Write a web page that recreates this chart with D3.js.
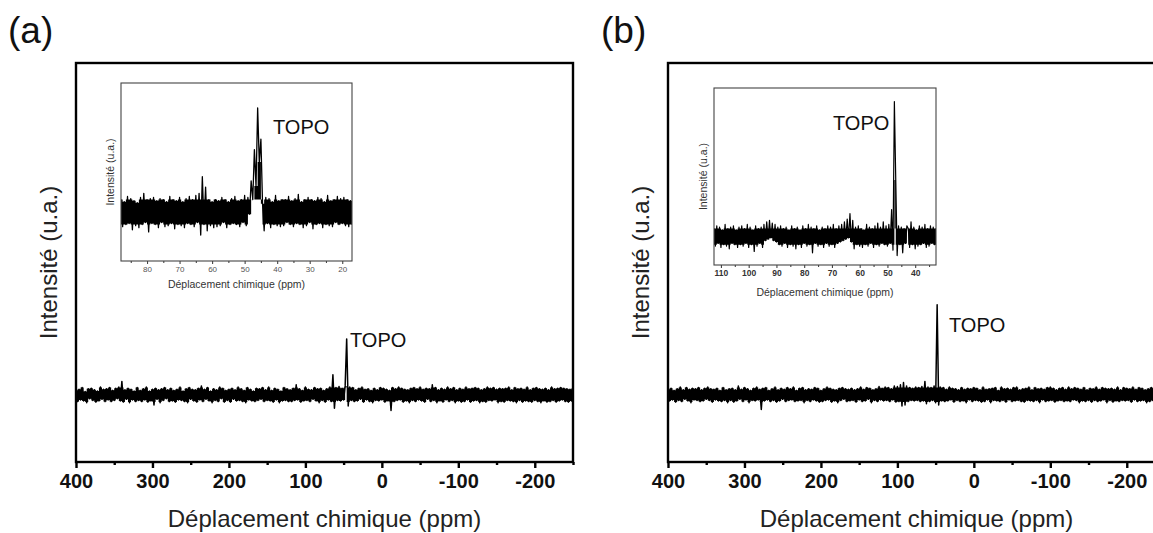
<!DOCTYPE html>
<html><head><meta charset="utf-8">
<script src="https://cdn.jsdelivr.net/npm/d3@7"></script>
<style>body{margin:0;background:#fff;} text{font-family:"Liberation Sans",Arial,sans-serif;}</style>
</head><body>
<script>
// ---------- DATA ----------
// main spectra: uniform grid from 400 ppm downwards, step 2 ppm (intensity, a.u.)
const mainStart = 400, mainStep = 2;
const mainTicks = [400, 300, 200, 100, 0, -100, -200];
const mainMinorTicks = [350, 250, 150, 50, -50, -150, -250];
const spectrumA = [
 8,-12,10,-9,13,-11,6,-14,11,-7,12,-10,9,-13,7,-11,14,-8,10,-12,
 11,-9,13,-12,8,-10,12,-7,14,-11,24,-13,9,-8,12,-14,10,-9,7,-12,
 13,-10,8,-12,11,-9,14,-13,7,-11,10,-18,12,-8,9,-14,11,-10,13,-7,
 9,-12,12,-11,8,-13,10,-9,14,-10,7,-12,11,-14,13,-8,10,-11,9,-13,
 12,-9,16,-12,10,-8,13,-11,7,-14,11,-10,9,-12,14,-7,12,-13,8,-10,
 10,-13,12,-8,9,-11,14,-10,11,-12,8,-14,13,-9,10,-11,7,-12,12,-10,
 11,-8,13,-12,9,-10,14,-11,8,-13,12,-9,10,-14,7,-11,13,-10,11,-12,
 9,-12,12,-10,18,-9,11,-13,8,-11,14,-10,10,-12,9,-8,13,-11,11,-14,
 12,-10,8,-13,11,-9,14,-12,36,-24,13,-10,15,-11,12,-9,16,100,-20,14,
 -10,13,-12,9,-11,12,-8,14,-13,10,-9,11,-12,8,-14,12,-10,9,-11,13,
 -9,12,-13,10,-11,8,-28,13,-12,11,-10,14,-9,12,-13,10,-11,9,-14,12,
 -10,13,-12,11,-9,14,-11,10,-13,12,-8,11,-12,18,-10,13,-14,9,-11,12,
 -13,10,-9,14,-12,11,-10,13,-14,9,-11,12,-13,10,-12,14,-9,11,-13,12,
 -11,13,-10,12,-14,9,-12,11,-13,14,-10,12,-11,13,-9,10,-14,12,-12,11,
 -13,12,-10,14,-11,9,-12,13,-14,11,-10,12,-13,10,-11,14,-12,9,-13,12,
 -10,13,-12,11,-14,10,-11,12,-13,9,-12,14,-10,11,-13,12,-11,13,-9,12,
 -12,11,-13,10,-11,12
];
const spectrumB = [
 10,-11,12,-9,8,-13,11,-10,14,-12,9,-8,13,-11,10,-14,12,-9,11,-10,
 13,-12,9,-11,12,-8,14,-10,11,-13,10,-9,12,-11,8,-12,13,-10,9,-14,
 11,-10,12,-13,9,-11,16,-8,10,-12,13,-9,11,-14,8,-10,12,-11,14,-9,
 10,-26,12,-11,13,-9,8,-12,11,-10,14,-13,9,-11,12,-8,10,-12,13,-10,
 11,-9,14,-12,8,-11,12,-10,13,-14,9,-10,11,-12,10,-9,13,-11,12,-13,
 8,-12,11,-10,14,-9,12,-13,10,-11,9,-14,12,-10,13,-8,11,-12,10,-11,
 12,-10,9,-13,11,-9,14,-12,10,-11,13,-8,12,-14,9,-10,11,-12,15,-9,
 12,-11,14,-10,13,-12,11,-9,16,-13,15,-12,18,-20,22,-18,16,-12,13,-10,
 12,-11,14,-10,13,-12,15,-11,24,-16,14,-12,13,-10,16,-14,161,-18,14,-11,
 13,-12,10,-11,14,-9,12,-13,11,-10,9,-12,13,-11,10,-14,12,-9,11,-12,
 13,-10,12,-11,9,-13,14,-12,10,-9,11,-14,12,-10,13,-11,8,-12,14,-10,
 11,-13,12,-9,10,-12,13,-11,14,-10,9,-12,11,-13,12,-10,14,-11,9,-12,
 13,-10,11,-14,12,-9,10,-12,13,-11,14,-10,12,-13,9,-11,12,-10,13,-12,
 10,-11,14,-12,11,-9,13,-10,12,-14,10,-11,13,-12,9,-10,12,-13,11,-10,
 14,-12,10,-11,13,-9,12,-14,11,-10,12,-13,10,-11,14,-12,9,-10,13,-11,
 12,-10,11,-13,14,-9,10,-12,13,-11,12,-10,9,-14,11,-12,13,-10,12,-11,
 10,-13,12,-11,14,-10
];
// insets: uniform grid, step 0.5 ppm
const insetStep = 0.5;
const insetAStart = 88;
const insetATicks = [80, 70, 60, 50, 40, 30, 20];
const insetAMinor = [85, 75, 65, 55, 45, 35, 25];
const insetA = [
 12,-14,10,-12,15,-11,13,-17,11,-13,9,-15,14,-12,18,-10,12,-19,13,-11,
 14,-12,11,-15,13,-10,12,-14,10,-13,15,-11,12,-16,11,-12,14,-13,10,-15,
 13,-11,15,-12,12,-14,16,-10,18,-22,34,-12,24,-18,12,-13,10,-15,12,-14,
 11,-13,14,-10,12,-15,10,-12,13,-11,15,-12,11,-14,12,-10,16,-13,14,-2,
 30,12,60,25,100,48,70,8,-18,14,-11,13,-15,10,-12,16,-13,11,-14,12,
 -13,12,-10,15,-12,11,-14,13,-11,17,-12,10,-15,12,-13,14,-10,12,-16,11,
 -12,14,-11,13,-15,10,-12,16,-13,11,-14,12,-10,15,-12,13,-11,14,-13,12,
 -14,11,-12
];
const insetBStart = 112.5;
const insetBTicks = [110, 100, 90, 80, 70, 60, 50, 40];
const insetBMinor = [105, 95, 85, 75, 65, 55, 45, 35];
const insetB = [
 6,-7,8,-5,7,-8,5,-6,9,-7,6,-9,7,-5,8,-6,5,-8,7,-6,
 8,-7,6,-5,9,-8,7,-6,5,-11,8,-7,6,-5,7,-8,9,-3,11,-2,
 12,-1,10,-3,9,-4,7,-6,8,-7,6,-5,7,-8,5,-6,8,-7,6,-9,
 7,-6,5,-8,8,-5,6,-7,9,-6,7,-12,6,-5,8,-7,5,-6,7,-8,
 6,-5,8,-7,7,-6,9,-8,6,-5,8,-4,9,-3,11,-2,13,-1,17,-4,
 12,-9,7,-6,8,-7,6,-8,5,-6,9,-7,7,-5,6,-8,8,-6,10,-7,
 7,-5,11,-6,8,-7,9,-5,20,-10,100,42,-14,8,-6,7,-12,6,-5,8,
 6,-8,11,-6,7,-9,5,-7,8,-6,7,-5,9,-8,6,-7,8,-5,7,-6,
 6
];
const peakLabel = "TOPO";
const xTitle = "Déplacement chimique (ppm)";
const yTitle = "Intensité (u.a.)";

// ---------- DRAW ----------
const W = 1153, H = 533;
const svg = d3.select("body").append("svg").attr("width", W).attr("height", H);
const defs = svg.append("defs");
let clipN = 0;

function drawPlot(o) {
  const x = d3.scaleLinear().domain(o.xd).range([o.x0, o.x1]);
  const y = d3.scaleLinear().domain(o.yd).range([o.y1, o.y0]);
  const id = "clip" + (clipN++);
  defs.append("clipPath").attr("id", id).append("rect")
    .attr("x", o.x0).attr("y", o.y0).attr("width", o.x1 - o.x0).attr("height", o.y1 - o.y0);
  const ppm = i => o.start - i * o.step;
  const n = o.data.length;
  // min/max envelope of each sampled segment (limited to the noise core) -> dense band
  const env = o.data.map((d, i) => {
    const nx = o.data[Math.min(i + 1, n - 1)];
    return {lo: Math.max(Math.min(d, nx), -o.cap), hi: Math.min(Math.max(d, nx), o.cap)};
  });
  svg.append("path").datum(env).attr("clip-path", `url(#${id})`)
    .attr("d", d3.area().curve(d3.curveStepAfter).x((d, i) => x(ppm(i))).y0(d => y(d.lo)).y1(d => y(d.hi)))
    .attr("fill", "#000");
  const line = d3.line().x((d, i) => x(ppm(i))).y(d => y(d));
  svg.append("path").datum(o.data).attr("clip-path", `url(#${id})`)
    .attr("d", line).attr("fill", "none").attr("stroke", "#000")
    .attr("stroke-width", o.lw).attr("stroke-linejoin", "round");
  // frame
  svg.append("rect").attr("x", o.x0).attr("y", o.y0)
    .attr("width", o.x1 - o.x0).attr("height", o.y1 - o.y0)
    .attr("fill", "none").attr("stroke", o.frameColor).attr("stroke-width", o.frameW);
  // axis
  const g = svg.append("g").attr("transform", `translate(0,${o.y1})`)
    .call(d3.axisBottom(x).tickValues(o.ticks).tickFormat(d => String(d))
      .tickSize(o.tickLen).tickSizeOuter(0).tickPadding(o.pad));
  g.select(".domain").remove();
  g.selectAll(".tick line").attr("stroke", o.frameColor).attr("stroke-width", o.frameW);
  g.selectAll(".tick text").attr("font-size", o.tickFont).attr("font-weight", o.tickBold ? "bold" : "normal")
    .attr("fill", o.tickColor).style("font-family", '"Liberation Sans", Arial, sans-serif');
  const gm = svg.append("g").attr("transform", `translate(0,${o.y1})`)
    .call(d3.axisBottom(x).tickValues(o.minor).tickSize(o.minorLen).tickFormat("").tickSizeOuter(0));
  gm.select(".domain").remove();
  gm.selectAll(".tick line").attr("stroke", o.frameColor).attr("stroke-width", o.frameW);
  // titles
  svg.append("text").attr("x", (o.x0 + o.xTitleRight) / 2).attr("y", o.xTitleY)
    .attr("text-anchor", "middle").attr("font-size", o.titleFont).attr("fill", o.titleColor).text(xTitle);
  svg.append("text").attr("transform", `translate(${o.yTitleX},${(o.y0 + o.y1) / 2}) rotate(-90)`)
    .attr("text-anchor", "middle").attr("font-size", o.titleFont).attr("fill", o.titleColor).text(yTitle);
  // peak label
  svg.append("text").attr("x", o.lab[0]).attr("y", o.lab[1])
    .attr("font-size", 20).attr("fill", "#111").text(peakLabel);
}

// Panel (a)
drawPlot({x0: 76, x1: 573, y0: 63, y1: 462, xd: [400, -250], yd: [-120, 593],
  start: mainStart, step: mainStep, data: spectrumA, lw: 1.5, cap: 13,
  frameColor: "#000", frameW: 2.4, ticks: mainTicks, minor: mainMinorTicks, tickLen: 6, minorLen: 3, pad: 6,
  tickFont: 20, tickBold: true, tickColor: "#111", xTitleRight: 573, xTitleY: 527, yTitleX: 57,
  titleFont: 24, titleColor: "#222", lab: [350, 347]});
drawPlot({x0: 121, x1: 352, y0: 83, y1: 261, xd: [88, 17], yd: [-47, 124],
  start: insetAStart, step: insetStep, data: insetA, lw: 1.3, cap: 12,
  frameColor: "#444", frameW: 1.1, ticks: insetATicks, minor: insetAMinor, tickLen: 3, minorLen: 2, pad: 2,
  tickFont: 8, tickBold: false, tickColor: "#555", xTitleRight: 352, xTitleY: 288, yTitleX: 114,
  titleFont: 10.5, titleColor: "#333", lab: [273, 134]});

// Panel (b)
drawPlot({x0: 668, x1: 1165, y0: 63, y1: 462, xd: [400, -250], yd: [-120, 593],
  start: mainStart, step: mainStep, data: spectrumB, lw: 1.5, cap: 13,
  frameColor: "#000", frameW: 2.4, ticks: mainTicks, minor: mainMinorTicks, tickLen: 6, minorLen: 3, pad: 6,
  tickFont: 20, tickBold: true, tickColor: "#111", xTitleRight: 1165, xTitleY: 527, yTitleX: 649,
  titleFont: 24, titleColor: "#222", lab: [949, 332]});
drawPlot({x0: 714, x1: 936, y0: 88, y1: 265, xd: [112.5, 32.5], yd: [-21, 110],
  start: insetBStart, step: insetStep, data: insetB, lw: 1.2, cap: 6,
  frameColor: "#444", frameW: 1.1, ticks: insetBTicks, minor: insetBMinor, tickLen: 3, minorLen: 2, pad: 2,
  tickFont: 8.5, tickBold: true, tickColor: "#333", xTitleRight: 936, xTitleY: 296, yTitleX: 707,
  titleFont: 10.5, titleColor: "#333", lab: [833, 130]});

// panel letters
svg.append("text").attr("x", 8).attr("y", 43).attr("font-size", 37).attr("fill", "#111").text("(a)");
svg.append("text").attr("x", 601).attr("y", 43).attr("font-size", 37).attr("fill", "#111").text("(b)");
</script>
</body></html>
